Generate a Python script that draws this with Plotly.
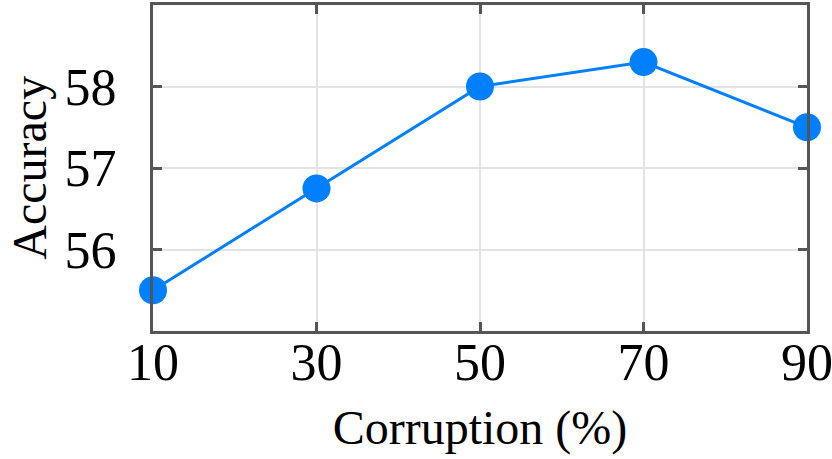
import plotly.graph_objects as go

corruption = [10, 30, 50, 70, 90]
accuracy = [55.5, 56.75, 58.0, 58.3, 57.5]
x_ticks = [10, 30, 50, 70, 90]
y_ticks = [56, 57, 58]

font = "Liberation Serif, Times New Roman, serif"

fig = go.Figure(go.Scatter(
    x=corruption, y=accuracy,
    mode='lines+markers',
    line=dict(color='#0080FF', width=3),
    marker=dict(color='#0080FF', size=28),
    cliponaxis=False,
    hoverinfo='skip',
))

axis_common = dict(
    showline=True, linecolor='#555555', linewidth=3, mirror='ticks',
    ticks='inside', ticklen=9, tickwidth=3, tickcolor='#555555',
    showgrid=True, gridcolor='#e3e3e3', gridwidth=1.5,
    zeroline=False, automargin=False,
    tickfont=dict(family=font, size=52, color='black'),
    ticklabeloverflow='allow',
)

fig.update_layout(
    width=832, height=459,
    margin=dict(l=153, r=25, t=5, b=128),
    paper_bgcolor='white', plot_bgcolor='white',
    showlegend=False,
    xaxis=dict(
        range=[10, 90], tickvals=x_ticks,
        title=dict(text='Corruption (%)', font=dict(family=font, size=48, color='black'), standoff=20),
        ticklabelstandoff=-16,
        **axis_common,
    ),
    yaxis=dict(
        range=[55, 59], tickvals=y_ticks,
        ticklabelstandoff=23,
        **axis_common,
    ),
)

# y title as an annotation so it can sit near the left edge
fig.add_annotation(
    text='Accuracy', textangle=-90,
    xref='paper', yref='paper', x=-0.19, y=0.5,
    xanchor='center', yanchor='middle', showarrow=False, borderpad=0,
    font=dict(family=font, size=48, color='black'),
)

fig.write_html("out.html", config={'displayModeBar': False},
               post_script="document.body.style.margin='0px';")
